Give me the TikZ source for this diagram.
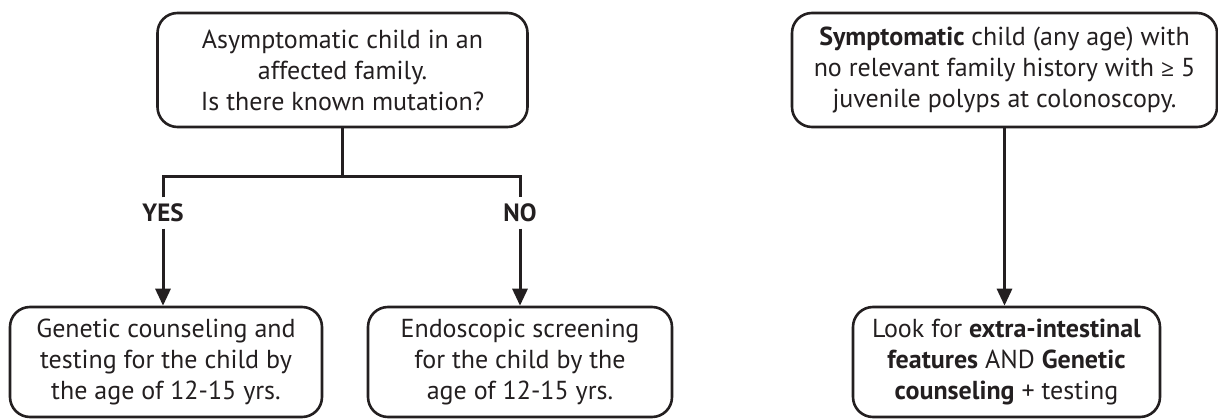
\documentclass[tikz,border=0pt]{standalone}
\usepackage{fontspec}
\setmainfont{PT Sans}
\newfontfamily\symfont{Open Sans}
\usetikzlibrary{arrows.meta}
\definecolor{ink}{HTML}{231F20}
\begin{document}
\begin{tikzpicture}[x=1pt,y=-1pt,
  box/.style={draw=ink, text=ink, line width=2.6pt, rounded corners=20pt, align=center, inner sep=0pt, font=\fontsize{26}{31}\selectfont},
  conn/.style={draw=ink, line width=3pt},
  arr/.style={conn, -{Triangle[width=15pt,length=17pt]}},
  lbl/.style={text=ink, font=\fontsize{25}{28}\selectfont\bfseries, text height=17pt, text depth=0pt, inner sep=7pt}]
\useasboundingbox (0,0) rectangle (1218,419);
\node[box, minimum width=370pt, minimum height=114pt] (q) at (342.5,70) {Asymptomatic child in an\\affected family.\\Is there known mutation?};
\node[box, minimum width=312pt, minimum height=110pt] (gen) at (166,362) {Genetic counseling and\\testing for the child by\\the age of 12-15 yrs.};
\node[box, minimum width=304pt, minimum height=110pt] (endo) at (520,362) {Endoscopic screening\\for the child by the\\age of 12-15 yrs.};
\node[box, minimum width=425pt, minimum height=114pt] (sym) at (1004.5,70) {\textbf{Symptomatic} child (any age) with\\no relevant family history with {\symfont\fontsize{23}{31}\selectfont ≥} 5\\juvenile polyps at colonoscopy.};
\node[box, minimum width=307pt, minimum height=110pt] (look) at (1006.5,362) {Look for \textbf{extra-intestinal}\\\textbf{features} AND \textbf{Genetic}\\\textbf{counseling} + testing};
\node[lbl] (yes) at (163,213) {YES};
\node[lbl] (no) at (520,213) {NO};
\coordinate (jl) at (163,177);
\coordinate (jr) at (520,177);
\draw[conn] (q.south) -- (q.south |- jl);
\draw[conn] (yes.north) -- (jl) -- (jr) -- (no.north);
\draw[arr] (yes.south) -- (yes.south |- gen.north);
\draw[arr] (no.south) -- (endo.north);
\draw[arr] (sym.south) -- (sym.south |- look.north);
\end{tikzpicture}
\end{document}
